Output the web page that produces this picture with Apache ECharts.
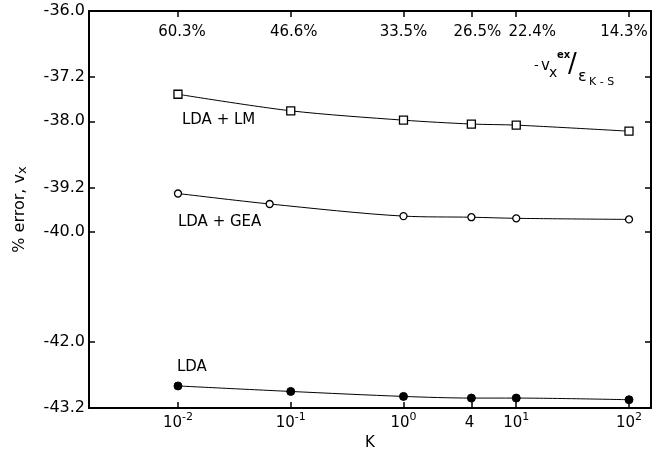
<!DOCTYPE html>
<html><head><meta charset="utf-8">
<script src="https://cdn.jsdelivr.net/npm/echarts@6/dist/echarts.min.js"></script>
<style>html,body{margin:0;padding:0;background:#fff}#c{width:661px;height:454px}</style>
</head><body><div id="c"></div>
<script>
const kTicks = [0.01, 0.1, 1, 4, 10, 100];
const kTickBase = ['10', '10', '10', '4', '10', '10'];
const kTickExp = ['-2', '-1', '0', '', '1', '2'];
const topPercents = ['60.3%', '46.6%', '33.5%', '26.5%', '22.4%', '14.3%'];
const yTicks = [-36.0, -37.2, -38.0, -39.2, -40.0, -42.0, -43.2];
const seriesNames = ['LDA + LM', 'LDA + GEA', 'LDA'];
const kLM = [0.01, 0.1, 1, 4, 10, 100];
const valLM = [-37.51, -37.81, -37.98, -38.05, -38.07, -38.18];
const kGEA = [0.01, 0.065, 1, 4, 10, 100];
const valGEA = [-39.31, -39.50, -39.72, -39.74, -39.76, -39.78];
const kLDA = [0.01, 0.1, 1, 4, 10, 100];
const valLDA = [-42.80, -42.90, -42.99, -43.02, -43.02, -43.05];

const FONT = 'DejaVu Sans';
function tickIndex(v) {
  let best = 0, bd = Infinity;
  for (let i = 0; i < kTicks.length; i++) {
    const d = Math.abs(Math.log10(v) - Math.log10(kTicks[i]));
    if (d < bd) { bd = d; best = i; }
  }
  return best;
}
function mkData(ks, vs, labelOpt) {
  return ks.map((k, i) => i === 0 ? { value: [k, vs[i]], label: labelOpt } : [k, vs[i]]);
}
const lineStyle = { color: '#000', width: 1 };
const xMin = 0.001625, xMax = 156.7;

// small horizontal nudges of the top percentage labels (pixels), as placed in the original
const pctShift = [4, 3, 0, 6, 16, -5];
const pctRich = {};
pctShift.forEach((s, i) => {
  pctRich['p' + i] = { fontFamily: FONT, fontSize: 15, color: '#000',
    padding: s >= 0 ? [0, 0, 0, 2 * s] : [0, -2 * s, 0, 0] };
});

const chart = echarts.init(document.getElementById('c'));
chart.setOption({
  backgroundColor: '#fff',
  animation: false,
  grid: { left: 89, right: 10, top: 11, bottom: 46, containLabel: false, outerBoundsMode: 'none' },
  xAxis: [{
    type: 'log', logBase: 10, min: xMin, max: xMax, position: 'bottom',
    name: 'K', nameLocation: 'middle', nameGap: 28,
    nameTextStyle: { fontFamily: FONT, fontSize: 15, color: '#000' },
    axisLine: { lineStyle: { color: '#000', width: 2 } },
    axisTick: { inside: true, length: 6, lineStyle: { color: '#000', width: 1.5 }, customValues: kTicks },
    axisLabel: {
      customValues: kTicks, margin: 4, color: '#000', fontFamily: FONT,
      formatter: v => { const i = tickIndex(v); return '{b|' + kTickBase[i] + '}{s|' + (kTickExp[i] || '\u00a0') + '}'; },
      rich: {
        b: { fontFamily: FONT, fontSize: 15, color: '#000' },
        s: { fontFamily: FONT, fontSize: 11, color: '#000', padding: [0, 0, 11, 0] }
      }
    },
    splitLine: { show: false }, minorTick: { show: false }
  }, {
    type: 'log', logBase: 10, min: xMin, max: xMax, position: 'top',
    axisLine: { lineStyle: { color: '#000', width: 2 } },
    axisTick: { inside: true, length: 6, lineStyle: { color: '#000', width: 1.5 }, customValues: kTicks },
    axisLabel: {
      customValues: kTicks, inside: true, margin: 14, color: '#000', fontFamily: FONT, fontSize: 15,
      formatter: v => { const i = tickIndex(v); return '{p' + i + '|' + topPercents[i] + '}'; },
      rich: pctRich
    },
    splitLine: { show: false }
  }],
  yAxis: [{
    type: 'value', min: -43.2, max: -36.0, position: 'left',
    name: '% error, v{s|x}', nameLocation: 'middle', nameGap: 60,
    nameTextStyle: { fontFamily: FONT, fontSize: 16, color: '#000',
      rich: { s: { fontFamily: FONT, fontSize: 13, color: '#000', padding: [6, 0, 0, 0] } } },
    axisLine: { show: true, lineStyle: { color: '#000', width: 2 } },
    axisTick: { show: true, inside: true, length: 6, lineStyle: { color: '#000', width: 1.5 }, customValues: yTicks },
    axisLabel: { customValues: yTicks, margin: 4, color: '#000', fontFamily: FONT, fontSize: 16,
      formatter: v => v.toFixed(1) },
    splitLine: { show: false }
  }, {
    type: 'value', min: -43.2, max: -36.0, position: 'right',
    axisLine: { show: true, lineStyle: { color: '#000', width: 2 } },
    axisTick: { show: true, inside: true, length: 6, lineStyle: { color: '#000', width: 1.5 }, customValues: yTicks },
    axisLabel: { show: false },
    splitLine: { show: false }
  }],
  series: [{
    name: seriesNames[0], type: 'line', smooth: 0.3,
    symbol: 'rect', symbolSize: 8,
    itemStyle: { color: '#fff', borderColor: '#000', borderWidth: 1.3 },
    lineStyle: lineStyle,
    data: mkData(kLM, valLM, { show: true, formatter: seriesNames[0], position: 'bottom', distance: 14, align: 'left', offset: [4, 0], color: '#000', fontFamily: FONT, fontSize: 15 })
  }, {
    name: seriesNames[1], type: 'line', smooth: 0.3,
    symbol: 'circle', symbolSize: 7,
    itemStyle: { color: '#fff', borderColor: '#000', borderWidth: 1.3 },
    lineStyle: lineStyle,
    data: mkData(kGEA, valGEA, { show: true, formatter: seriesNames[1], position: 'bottom', distance: 17, align: 'left', offset: [0, 0], color: '#000', fontFamily: FONT, fontSize: 15 })
  }, {
    name: seriesNames[2], type: 'line', smooth: 0.3,
    symbol: 'circle', symbolSize: 8,
    itemStyle: { color: '#000', borderColor: '#000', borderWidth: 1 },
    lineStyle: lineStyle,
    data: mkData(kLDA, valLDA, { show: true, formatter: seriesNames[2], position: 'top', distance: 7, align: 'left', offset: [-1, 0], color: '#000', fontFamily: FONT, fontSize: 15 })
  }],
  graphic: [{
    type: 'group', x: 534, y: 0, silent: true,
    children: [
      { type: 'text', x: 0, y: 66, style: { text: '-', font: '13px ' + FONT, fill: '#000', textAlign: 'left', textVerticalAlign: 'middle', align: 'left', verticalAlign: 'middle' } },
      { type: 'text', x: 7, y: 66, style: { text: 'v', font: '15px ' + FONT, fill: '#000', textAlign: 'left', textVerticalAlign: 'middle', align: 'left', verticalAlign: 'middle' } },
      { type: 'text', x: 15, y: 73, style: { text: 'x', font: '14px ' + FONT, fill: '#000', textAlign: 'left', textVerticalAlign: 'middle', align: 'left', verticalAlign: 'middle' } },
      { type: 'text', x: 23, y: 55, style: { text: 'ex', font: 'bold 10px ' + FONT, fill: '#000', textAlign: 'left', textVerticalAlign: 'middle', align: 'left', verticalAlign: 'middle' } },
      { type: 'text', x: 34, y: 65, style: { text: '/', font: '26px ' + FONT, fill: '#000', textAlign: 'left', textVerticalAlign: 'middle', align: 'left', verticalAlign: 'middle' } },
      { type: 'text', x: 44, y: 77, style: { text: 'ε', font: '16px ' + FONT, fill: '#000', textAlign: 'left', textVerticalAlign: 'middle', align: 'left', verticalAlign: 'middle' } },
      { type: 'text', x: 55, y: 82, style: { text: 'K - S', font: '11px ' + FONT, fill: '#000', textAlign: 'left', textVerticalAlign: 'middle', align: 'left', verticalAlign: 'middle' } }
    ]
  }]
});
</script></body></html>
